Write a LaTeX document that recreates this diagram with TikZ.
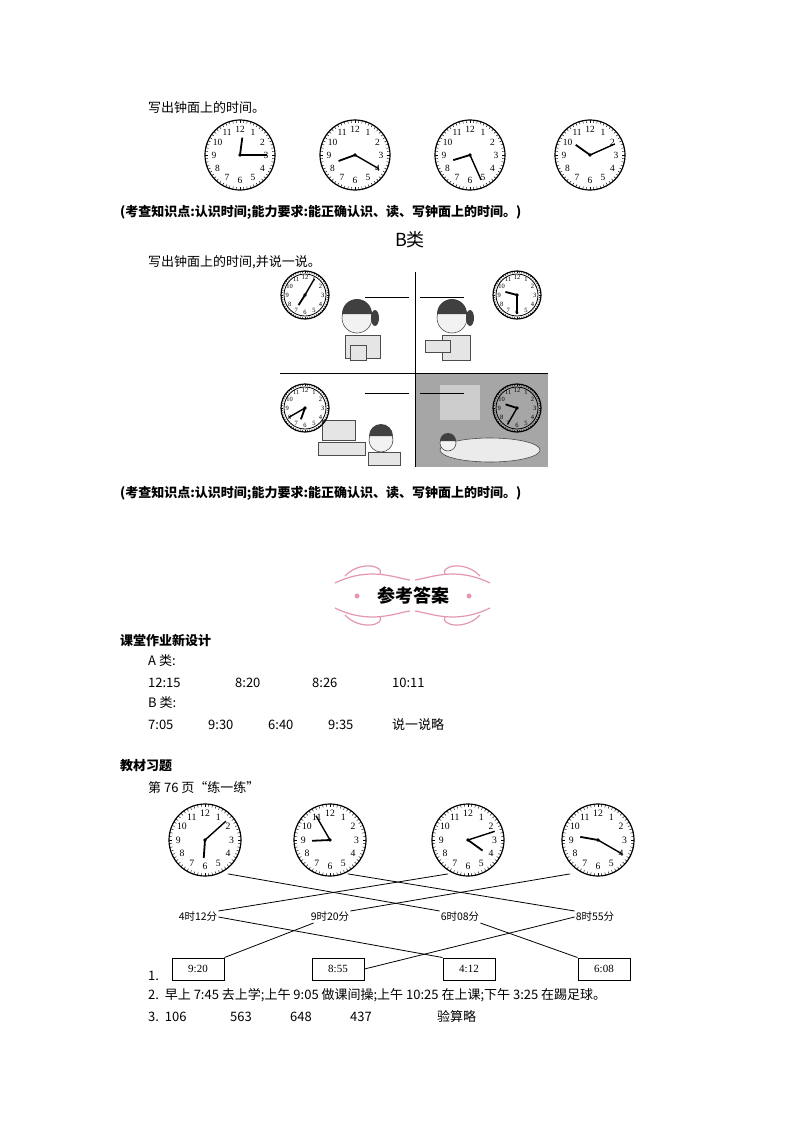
\documentclass[tikz,border=0pt]{standalone}
\usepackage{fontspec}
\setmainfont{Liberation Serif}
\newfontfamily\cjk{Noto Sans CJK SC}
\definecolor{bpink}{RGB}{228,150,180}
\usetikzlibrary{calc}
\newcommand{\myclock}[6]{% name,x,y,r,h,m
 \pgfmathsetmacro\clkfs{#4*0.27}
 \node[circle,draw,line width=1.2pt,minimum size=2*#4,inner sep=0] (#1) at (#2,#3) {};
 \foreach \k in {0,...,59}{\draw[line width=0.4pt] ($(#1)+(\k*6:#4*0.92)$) -- ($(#1)+(\k*6:#4)$);}
 \foreach \n in {1,...,12}{\node[font=\fontsize{\clkfs}{\clkfs}\selectfont,inner sep=0] at ($(#1)+({\n*30-90}:#4*0.74)$) {\n};}
 \draw[line width=1.8pt] (#1.center) -- ++({30*(#5+#6/60)-90}:#4*0.5);
 \draw[line width=1.4pt] (#1.center) -- ++({6*#6-90}:#4*0.78);
 \fill (#1.center) circle (1.8pt);}
\tikzset{txt/.style={anchor=west,inner sep=0,font=\cjk\fontsize{13}{13}\selectfont},
 lab/.style={inner sep=1pt,font=\cjk\fontsize{10.5}{10.5}\selectfont},
 box/.style={draw,line width=1pt,minimum width=52pt,minimum height=22pt,inner sep=0,font=\fontsize{11}{11}\selectfont},
 girl/.style={draw=black!70,fill=black!10,line width=0.6pt}}
\begin{document}
\begin{tikzpicture}[x=1pt,y=-1pt]
\useasboundingbox (0,0) rectangle (800,1132);
\node[txt] (t1) at (148,108) {写出钟面上的时间。};
\myclock{c1}{240}{155}{35}{12}{15}
\myclock{c2}{355}{155}{35}{8}{20}
\myclock{c3}{470}{155}{35}{8}{26}
\myclock{c4}{590}{155}{35}{10}{11}
\node[txt,font=\cjk\fontsize{13}{13}\selectfont\bfseries] (t2) at (120,212) {(考查知识点:认识时间;能力要求:能正确认识、读、写钟面上的时间。)};
\node[font=\cjk\fontsize{18}{18}\selectfont,inner sep=0] (t3) at (410,240) {B类};
\node[txt] (t4) at (148,262) {写出钟面上的时间,并说一说。};
% panels
\fill[black!35] (415,374) rectangle (548,467);
\fill[black!20] (440,385) rectangle (480,420);
\draw[line width=0.7pt] (415,272) -- (415,467);
\draw[line width=0.7pt] (280,373) -- (548,373);
\foreach \x/\y in {365/297,420/297,365/393,420/393}{\draw[line width=0.8pt] (\x,\y) -- ++(44,0);}
% simple girls
\draw[girl,fill=black!5] (357,318) circle (15); \fill[black!75] (342,314) arc (180:360:15) -- cycle; \fill[black!75] (375,318) ellipse (4 and 8);
\draw[girl] (345,335) rectangle (380,358); \draw[girl] (350,345) rectangle (366,360);
\draw[girl,fill=black!5] (452,318) circle (15); \fill[black!75] (437,314) arc (180:360:15) -- cycle; \fill[black!75] (470,318) ellipse (4 and 8);
\draw[girl] (442,335) rectangle (470,360); \draw[girl] (425,340) rectangle (450,352);
\draw[girl] (322,420) rectangle (355,440); \draw[girl] (318,442) rectangle (365,455);
\draw[girl,fill=black!5] (381,440) circle (12); \fill[black!75] (369,436) arc (180:360:12) -- cycle;
\draw[girl] (368,452) rectangle (400,465);
\draw[girl,fill=black!8] (490,450) ellipse (50 and 12);
\draw[girl,fill=black!5] (448,443) circle (8); \fill[black!75] (440,441) arc (180:360:8) -- cycle;
\myclock{b1}{305}{295}{24}{7}{5}
\myclock{b2}{517}{295}{24}{9}{30}
\myclock{b3}{305}{408}{24}{6}{40}
\myclock{b4}{517}{408}{24}{9}{35}
\foreach \b in {b1,b2,b3,b4}{\draw[line width=0.8pt] (\b) circle (21);}
\node[txt,font=\cjk\fontsize{13}{13}\selectfont\bfseries] (t5) at (120,493) {(考查知识点:认识时间;能力要求:能正确认识、读、写钟面上的时间。)};
% banner
\begin{scope}[bpink,line width=1.2pt]
\draw (335,583) .. controls (370,566) and (395,578) .. (410,580);
\draw (415,580) .. controls (430,578) and (455,566) .. (490,583);
\draw (345,576) .. controls (360,560) and (385,566) .. (380,574);
\draw (480,576) .. controls (465,560) and (440,566) .. (445,574);
\draw (335,608) .. controls (370,625) and (395,613) .. (410,611);
\draw (415,611) .. controls (430,613) and (455,625) .. (490,608);
\draw (345,615) .. controls (360,631) and (385,625) .. (380,617);
\draw (480,615) .. controls (465,631) and (440,625) .. (445,617);
\fill (357,596) circle (2.5); \fill (469,596) circle (2.5);
\end{scope}
\node[font=\cjk\fontsize{18}{18}\selectfont\bfseries,inner sep=0] (ban) at (413,596) {参考答案};
\node[txt,font=\cjk\fontsize{13}{13}\selectfont\bfseries] (h1) at (120,641) {课堂作业新设计};
\node[txt] at (148,661) {A 类:};
\node[txt] at (148,683) {12:15};\node[txt] at (235,683) {8:20};\node[txt] at (312,683) {8:26};\node[txt] at (392,683) {10:11};
\node[txt] at (148,703) {B 类:};
\node[txt] at (148,725) {7:05};\node[txt] at (208,725) {9:30};\node[txt] at (268,725) {6:40};\node[txt] at (328,725) {9:35};\node[txt] at (392,725) {说一说略};
\node[txt,font=\cjk\fontsize{13}{13}\selectfont\bfseries] (h2) at (120,766) {教材习题};
\node[txt] at (148,788) {第 76 页“练一练”};
\myclock{d1}{205}{840}{36}{6}{8}
\myclock{d2}{330}{840}{36}{8}{55}
\myclock{d3}{468}{840}{36}{4}{12}
\myclock{d4}{598}{840}{36}{9}{20}
\node[lab] (l1) at (198,917) {4时12分};
\node[lab] (l2) at (330,917) {9时20分};
\node[lab] (l3) at (460,917) {6时08分};
\node[lab] (l4) at (595,917) {8时55分};
\node[box] (x1) at (198,969) {9:20};
\node[box] (x2) at (338,969) {8:55};
\node[box] (x3) at (469,969) {4:12};
\node[box] (x4) at (604,969) {6:08};
\begin{scope}[line width=0.8pt]
\draw (d1.south east) ++(-3,8) -- (l3.north west);
\draw (d2.south east) ++(-8,8) -- (l4.north west);
\draw (d3.south west) ++(6,8) -- (l1.north east);
\draw (d4.south west) ++(-2,8) -- (l2.north east);
\draw (l1.east) -- (x3.north west);
\draw (l2.south west) ++(4,0) -- (x1.north east);
\draw (l3.south east) -- (x4.north west);
\draw (l4.west) -- (x2.east);
\end{scope}
\node[txt] at (148,976) {1.};
\node[txt] at (148,995) {2.\ \ 早上 7:45 去上学;上午 9:05 做课间操;上午 10:25 在上课;下午 3:25 在踢足球。};
\node[txt] at (148,1017) {3.\ \ 106};\node[txt] at (230,1017) {563};\node[txt] at (290,1017) {648};\node[txt] at (350,1017) {437};\node[txt] at (437,1017) {验算略};
\end{tikzpicture}
\end{document}
